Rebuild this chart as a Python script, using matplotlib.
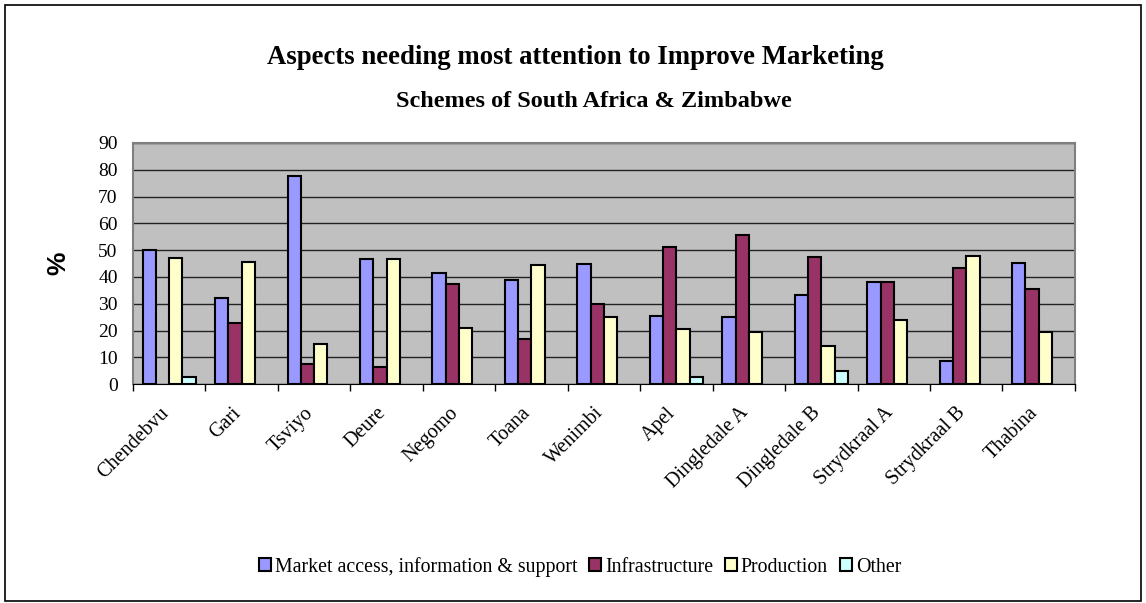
import numpy as np
import matplotlib.pyplot as plt
import matplotlib.transforms as mtransforms
from matplotlib.patches import Rectangle

schemes = ['Chendebvu', 'Gari', 'Tsviyo', 'Deure', 'Negomo', 'Toana', 'Wenimbi',
           'Apel', 'Dingledale A', 'Dingledale B', 'Strydkraal A', 'Strydkraal B', 'Thabina']
market = [50.0, 32.0, 77.5, 46.5, 41.5, 38.7, 44.9, 25.6, 24.9, 33.3, 38.0, 8.7, 45.1]
infra = [0.0, 22.7, 7.5, 6.5, 37.3, 16.7, 30.0, 51.2, 55.5, 47.6, 38.0, 43.5, 35.4]
production = [47.2, 45.5, 15.0, 46.5, 20.8, 44.5, 24.9, 20.4, 19.5, 14.2, 23.8, 47.8, 19.3]
other = [2.6, 0.0, 0.0, 0.0, 0.0, 0.0, 0.0, 2.6, 0.0, 4.9, 0.0, 0.0, 0.0]

series = [('Market access, information & support', market, '#9999FF'),
          ('Infrastructure', infra, '#993366'),
          ('Production', production, '#FFFFCC'),
          ('Other', other, '#CCFFFF')]

plt.rcParams['font.family'] = 'Liberation Serif'

fig = plt.figure(figsize=(11.46, 6.03), dpi=100)
fig.patches.append(Rectangle((0.004, 0.004), 0.992, 0.987, transform=fig.transFigure,
                             fill=False, edgecolor='black', linewidth=1.2))

ax = fig.add_axes([0.116, 0.363, 0.822, 0.4])
ax.set_facecolor('#C0C0C0')

x = np.arange(len(schemes))
w = 0.183
for i, (name, vals, col) in enumerate(series):
    # empty categories get no bar at all
    h = np.array(vals, dtype=float)
    h[h == 0] = np.nan
    ax.bar(x + (i - 1.5) * w, h, width=w, color=col, edgecolor='black',
           linewidth=1.5, label=name, zorder=3)

ax.set_xlim(-0.5, len(schemes) - 0.5)
ax.set_ylim(0, 90)
ax.set_yticks(range(0, 91, 10))
ax.yaxis.grid(True, color='#222222', linewidth=1.0, zorder=1)
ax.set_axisbelow(True)
ax.tick_params(axis='y', length=0, labelsize=14, pad=11)

ax.set_xticks(x)
ax.set_xticks(np.arange(-0.5, len(schemes)), minor=True)
ax.tick_params(axis='x', which='major', length=0, pad=14)
ax.tick_params(axis='x', which='minor', length=5, width=1, color='black')
ax.set_xticklabels(schemes, rotation=45, ha='right', rotation_mode='anchor', fontsize=14.5)
shift = mtransforms.ScaledTranslation(-10 / 100, 0, fig.dpi_scale_trans)
for lab in ax.get_xticklabels():
    lab.set_transform(lab.get_transform() + shift)

for side in ['top', 'right', 'left']:
    ax.spines[side].set_color('#808080')
    ax.spines[side].set_linewidth(1.5)
ax.spines['bottom'].set_color('black')

ax.set_ylabel('%', family='Liberation Sans', fontweight='bold', fontsize=19, labelpad=20)

fig.text(0.502, 0.905, 'Aspects needing most attention to Improve Marketing',
         ha='center', va='center', fontsize=19.3, fontweight='bold')
fig.text(0.518, 0.831, 'Schemes of South Africa & Zimbabwe',
         ha='center', va='center', fontsize=17.5, fontweight='bold')

fig.legend(loc='center', bbox_to_anchor=(0.506, 0.06), ncol=4, frameon=False,
           fontsize=14.3, handlelength=0.6, handleheight=0.6, handletextpad=0.2,
           columnspacing=0.6)

fig.savefig('out.png', dpi=100)
